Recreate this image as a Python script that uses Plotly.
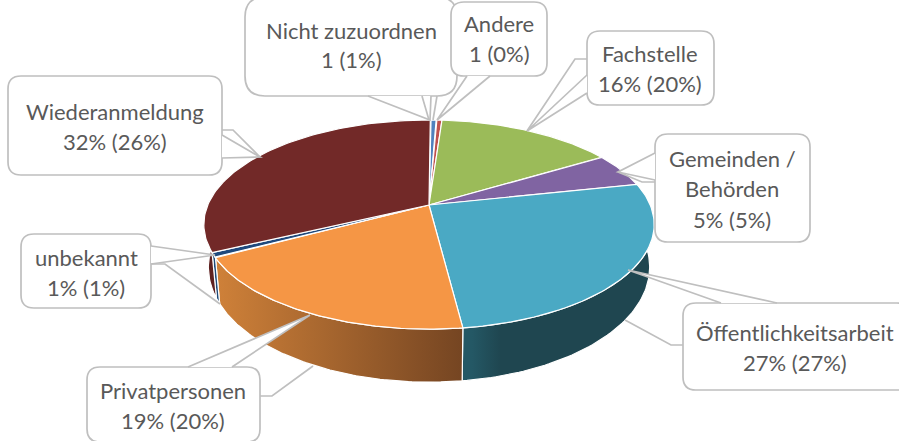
import numpy as np
import plotly.graph_objects as go

# ---- data ----
categories = ["Nicht zuzuordnen", "Andere", "Fachstelle", "Gemeinden / Behörden",
              "Öffentlichkeitsarbeit", "Privatpersonen", "unbekannt", "Wiederanmeldung"]
shares = [0.5, 0.5, 15.2, 5.3, 26.4, 19.1, 0.75, 32.25]
label_lines = [["Nicht zuzuordnen", "1 (1%)"], ["Andere", "1 (0%)"], ["Fachstelle", "16% (20%)"],
               ["Gemeinden /", "Behörden", "5% (5%)"], ["Öffentlichkeitsarbeit", "27% (27%)"],
               ["Privatpersonen", "19% (20%)"], ["unbekannt", "1% (1%)"], ["Wiederanmeldung", "32% (26%)"]]
top_colors = ["#4F81BD", "#C0504D", "#9BBB59", "#8064A2", "#4AA9C4", "#F59645", "#1F497D", "#722928"]
wall_grad = [["#3F6797", "#3F6797"], ["#9A403E", "#9A403E"], ["#7C9647", "#7C9647"], ["#665082", "#665082"],
             ["#245865", "#1F4650"], ["#CF8139", "#754522"], ["#1F4A78", "#1F4A78"], ["#5E2120", "#5E2120"]]

# ---- geometry (perspective view of a disc) ----
CX, CY, A, B, K = 429.0, 205.0, 221.2, 100.9, 0.187


def top(t):
    u, v = np.sin(t), np.cos(t)
    w = 1 + K * v
    return CX + A * u / w, CY - B * v / w


def bottom(t):
    u, v = np.sin(t), np.cos(t)
    w = 1 + K * v
    return CX + 0.98 * A * u / w, CY - B * v / w + 40 - 13 * v


edges = np.cumsum([0] + shares) / sum(shares) * 2 * np.pi + np.radians(0.4)
fig = go.Figure()
walls, faces = [], []
for i in range(len(shares)):
    t = np.linspace(edges[i], edges[i + 1], 90)
    xt, yt = top(t)
    xb, yb = bottom(t)
    c0, c1 = wall_grad[i]
    stops = [[0, c0], [1, c1]]
    if categories[i].startswith("Öffent"):
        stops = [[0, c0], [0.05, c0], [0.2, c1], [1, c1]]
    walls.append(go.Scatter(x=np.r_[xt, xb[::-1], xt[0]], y=np.r_[yt, yb[::-1], yt[0]], mode="lines",
                            fill="toself", line=dict(color="white", width=1.2),
                            fillgradient=dict(type="horizontal", colorscale=stops),
                            hoverinfo="skip", showlegend=False))
    faces.append(go.Scatter(x=np.r_[CX, xt, CX], y=np.r_[CY, yt, CY], mode="lines", fill="toself",
                            fillcolor=top_colors[i], line=dict(color="white", width=1.2),
                            name=categories[i], hoverinfo="name", showlegend=False))
for tr in walls + faces:
    fig.add_trace(tr)

# ---- callouts (pixel layout) ----
GRAY = "#BFBFBF"
LW = 1.7
shapes = []


def box(x0, y0, x1, y1, r=13):
    p = (f"M{x0+r},{y0} L{x1-r},{y0} Q{x1},{y0} {x1},{y0+r} L{x1},{y1-r} Q{x1},{y1} {x1-r},{y1} "
         f"L{x0+r},{y1} Q{x0},{y1} {x0},{y1-r} L{x0},{y0+r} Q{x0},{y0} {x0+r},{y0} Z")
    shapes.append(dict(type="path", path=p, fillcolor="white", line=dict(color=GRAY, width=LW)))


def wedge(pts):
    p = "M" + " L".join(f"{x},{y}" for x, y in pts) + " Z"
    shapes.append(dict(type="path", path=p, fillcolor="white", line=dict(width=0)))
    p = "M" + " L".join(f"{x},{y}" for x, y in pts)
    shapes.append(dict(type="path", path=p, line=dict(color=GRAY, width=LW)))


def leader(pts):
    p = "M" + " L".join(f"{x},{y}" for x, y in pts)
    shapes.append(dict(type="path", path=p, line=dict(color=GRAY, width=LW)))


# Nicht zuzuordnen
box(245, -3, 457, 96, 20)
wedge([(368, 96), (430, 120), (431, 96)])
leader([(422, 96), (429, 120)])
leader([(437, 96), (433, 120)])
# Andere
box(451, 2, 547, 76)
wedge([(467, 76), (437, 120), (490, 76)])
# Fachstelle
box(587, 31, 714, 105)
wedge([(587, 75), (527, 131), (587, 93)])
leader([(527, 131), (575, 59), (587, 59)])
# Gemeinden
box(655, 134, 810, 242)
wedge([(655, 153), (618, 172), (655, 180)])
leader([(618, 172), (642, 182), (655, 182)])
# Oeffentlichkeitsarbeit
box(683, 303, 910, 390)
wedge([(777, 303), (628, 270), (721, 303)])
leader([(683, 345), (671, 345), (625, 320)])
# Privatpersonen
box(87, 367, 260, 442)
wedge([(188, 367), (310, 315), (232, 367)])
leader([(260, 396), (272, 396), (313, 366)])
# unbekannt
box(21, 234, 151, 308)
wedge([(151, 246), (215, 255), (151, 264)])
leader([(151, 264), (165, 264), (220, 304)])
# Wiederanmeldung
box(8, 76, 222, 175)
wedge([(222, 135), (260, 157), (222, 158)])
leader([(222, 130), (233, 130), (260, 157)])

# ---- text ----
text_pos = [(351, [30, 59]), (499, [23.5, 53.5]), (650, [53, 83]), (732, [158, 188, 219]),
            (795, [332, 362]), (173, [390, 420]), (86, [257, 287]), (115, [111, 141])]
ann = []
for lines, (x, ys) in zip(label_lines, text_pos):
    for line, y in zip(lines, ys):
        ann.append(dict(x=x, y=y, xref="x", yref="y", text=line, showarrow=False, xanchor="center",
                        yanchor="middle", font=dict(family="Lato", size=22, color="#595959")))

fig.update_layout(width=899, height=441, margin=dict(l=0, r=0, t=0, b=0), paper_bgcolor="white",
                  plot_bgcolor="white", shapes=shapes, annotations=ann,
                  xaxis=dict(range=[0, 899], visible=False, fixedrange=True),
                  yaxis=dict(range=[441, 0], visible=False, fixedrange=True))
fig.write_html("out.html", config=dict(displayModeBar=False),
               post_script="document.body.style.margin='0';document.body.style.overflow='hidden';")
